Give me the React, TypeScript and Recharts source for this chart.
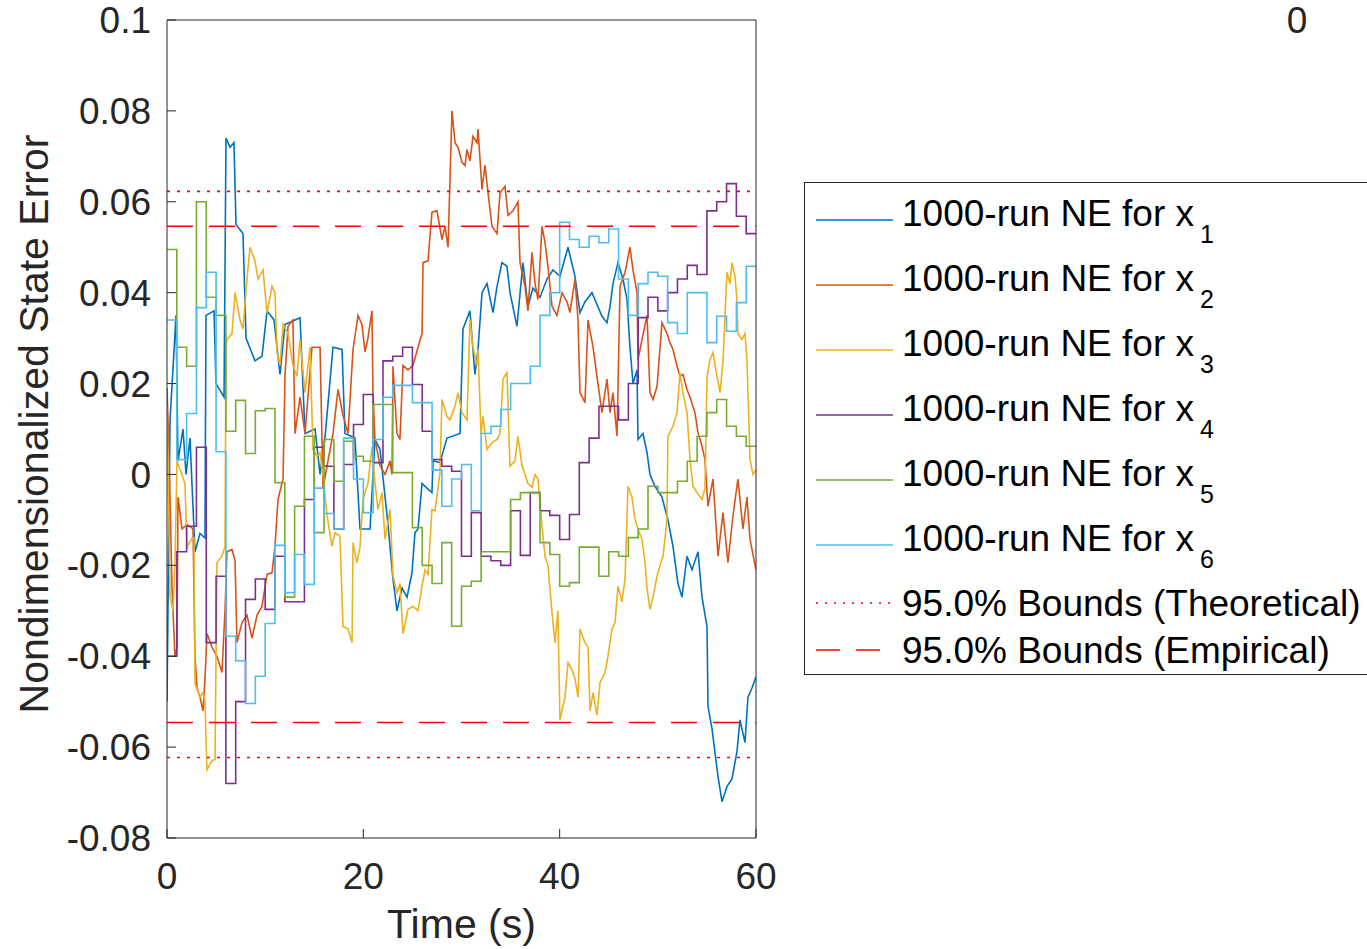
import { LineChart, Line, XAxis, YAxis, ReferenceLine, Legend } from "recharts";

const FONT = '"Liberation Sans", Arial, Helvetica, sans-serif';
const AXIS_COLOR = "#262626";

const timeTicks = [0, 20, 40, 60];
const errorTicks = [-0.08, -0.06, -0.04, -0.02, 0, 0.02, 0.04, 0.06, 0.08, 0.1];

const stateIndex = ["1", "2", "3", "4", "5", "6"];
const seriesColors = ["#0072BD", "#D95319", "#EDB120", "#7E2F8E", "#77AC30", "#4DBEEE"];
const seriesLabel = "1000-run NE for x";

const theoreticalBound = 0.0623;
const empiricalBound = 0.0546;
const boundLabels = ["95.0% Bounds (Theoretical)", "95.0% Bounds (Empirical)"];

// [time s, error]
const x1Trace: [number, number][] = [
  [0, -0.05], [0.31, 0.012], [0.92, 0.035], [1.12, 0.003], [1.63, 0.01], [1.94, 0], [2.34, 0.008],
  [2.85, -0.017], [3.36, -0.013], [3.87, -0.014], [3.97, 0.035], [4.79, 0.036], [4.99, 0.02],
  [5.81, 0.017], [6.01, 0.074], [6.42, 0.072], [6.82, 0.073], [7.03, 0.055], [7.74, 0.053],
  [8.05, 0.03], [8.96, 0.025], [9.68, 0.026], [10.19, 0.036], [10.9, 0.034], [11.51, 0.022],
  [12.02, 0.033], [13.55, 0.0345], [14.06, 0.009], [15.08, 0.01], [15.59, 0], [16.09, 0.008],
  [16.91, 0.028], [17.83, 0.0275], [18.13, 0.009], [19.15, 0.008], [19.66, -0.012], [20.68, -0.012],
  [21.19, 0.0077], [21.7, 0.0055], [22.51, -0.011], [23.02, -0.023], [23.43, -0.03], [23.94, -0.025],
  [24.45, -0.027], [24.96, -0.0216], [25.26, -0.0128], [25.57, -0.012], [25.98, -0.002],
  [26.48, -0.003], [26.99, -0.004], [27.1, 0.003], [27.81, 0.0026], [28.52, 0.008], [29.85, 0.009],
  [30.15, 0.032], [30.86, 0.036], [31.37, 0.022], [31.68, 0.0275], [32.09, 0.04], [32.6, 0.042],
  [33.21, 0.0356], [33.62, 0.0414], [34.12, 0.0466], [34.63, 0.0458], [34.94, 0.04], [35.65, 0.0326],
  [36.26, 0.0466], [36.77, 0.037], [37.28, 0.041], [38.0, 0.039], [38.71, 0.043], [39.32, 0.045],
  [40.03, 0.0436], [40.85, 0.05], [41.56, 0.0436], [42.07, 0.0356], [42.58, 0.038], [43.29, 0.04],
  [44.31, 0.0348], [44.82, 0.0334], [45.13, 0.037], [45.43, 0.042], [45.94, 0.0466], [46.45, 0.043],
  [46.86, 0.0385], [47.16, 0.028], [47.47, 0.02], [47.88, 0.023], [47.98, 0.0077], [48.49, 0.009],
  [48.9, 0.0048], [49.2, 0], [49.71, -0.0026], [50.42, -0.005], [51.03, -0.01], [51.54, -0.0158],
  [52.05, -0.024], [52.46, -0.027], [52.97, -0.018], [53.48, -0.021], [54.09, -0.017], [54.5, -0.027],
  [55.01, -0.0335], [55.11, -0.051], [55.52, -0.056], [56.13, -0.0665], [56.54, -0.072],
  [57.04, -0.0687], [57.55, -0.067], [58.06, -0.061], [58.37, -0.054], [58.67, -0.057],
  [58.88, -0.059], [59.18, -0.049], [59.59, -0.047], [60, -0.0445],
];

const x2Trace: [number, number][] = [
  [0, 0.019], [0.2, 0.005], [0.51, -0.025], [0.81, -0.04], [1.02, -0.038], [1.12, -0.005],
  [1.53, -0.012], [2.04, -0.011], [2.65, -0.012], [2.85, -0.04], [3.06, -0.047], [3.36, -0.049],
  [3.67, -0.052], [3.87, -0.045], [4.07, -0.035], [4.58, -0.038], [5.09, -0.04], [5.6, -0.0436],
  [5.91, -0.03], [6.11, -0.017], [6.62, -0.0165], [6.93, -0.019], [7.13, -0.037], [7.64, -0.0326],
  [8.15, -0.031], [8.66, -0.036], [9.17, -0.031], [9.68, -0.029], [10.19, -0.022], [10.7, -0.0216],
  [11.0, -0.0158], [11.31, -0.0055], [11.82, -0.001], [12.02, 0.0216], [12.33, 0.0326],
  [12.83, 0.034], [13.04, 0.009], [13.55, 0.017], [14.06, 0.009], [14.77, 0.028], [15.59, 0.028],
  [15.89, -0.003], [16.3, 0.0018], [16.91, 0.009], [17.42, 0.0187], [17.93, 0.013], [18.44, 0.009],
  [18.95, 0.0275], [19.46, 0.035], [19.86, 0.033], [20.17, 0.027], [20.47, 0.03], [20.88, 0.036],
  [20.98, 0.018], [21.19, 0.0077], [21.7, 0.002], [22.21, 0], [22.72, 0.003], [22.92, 0],
  [23.02, 0.0238], [23.43, 0.009], [23.73, 0.0077], [24.04, 0.024], [24.55, 0.023], [25.06, 0.024],
  [25.57, 0.028], [25.98, 0.031], [26.08, 0.0466], [26.59, 0.047], [26.99, 0.0577], [27.5, 0.058],
  [28.01, 0.0517], [28.32, 0.0546], [28.63, 0.05], [29.03, 0.08], [29.34, 0.073], [29.64, 0.072],
  [30.05, 0.0687], [30.36, 0.068], [30.56, 0.0715], [30.86, 0.069], [31.17, 0.0744], [31.58, 0.073],
  [31.68, 0.076], [32.09, 0.0627], [32.39, 0.068], [32.7, 0.062], [33.11, 0.0546], [33.62, 0.053],
  [33.92, 0.062], [34.43, 0.0634], [34.74, 0.057], [35.25, 0.058], [35.75, 0.06], [35.96, 0.0466],
  [36.47, 0.0414], [36.77, 0.036], [37.18, 0.0489], [37.49, 0.042], [37.79, 0.0385], [38.2, 0.0546],
  [38.51, 0.051], [38.81, 0.0458], [39.22, 0.037], [39.72, 0.035], [40.24, 0.04], [40.75, 0.038],
  [41.05, 0.0356], [41.56, 0.043], [41.87, 0.034], [42.07, 0.018], [42.58, 0.0158], [42.89, 0.034],
  [43.4, 0.028], [43.8, 0.0216], [44.31, 0.0136], [44.82, 0.021], [45.13, 0.0136], [45.43, 0.018],
  [45.84, 0.0084], [46.15, 0.0414], [46.66, 0.0445], [47.16, 0.05], [47.47, 0.045], [47.88, 0.04],
  [47.98, 0.0253], [48.39, 0.0297], [48.9, 0.035], [49.2, 0.018], [49.51, 0.0165], [49.92, 0.0194],
  [50.42, 0.0334], [50.93, 0.031], [51.24, 0.029], [51.54, 0.0275], [51.95, 0.0238], [52.26, 0.0216],
  [52.56, 0.022], [52.97, 0.0187], [53.28, 0.017], [53.78, 0.0136], [54.09, 0.0092], [54.5, 0.0062],
  [54.8, 0.0033], [55.11, -0.007], [55.62, -0.001], [56.13, -0.018], [56.64, -0.0084],
  [57.14, -0.0194], [57.65, -0.0092], [58.16, -0.001], [58.67, -0.012], [59.08, -0.005],
  [59.39, -0.0143], [60, -0.021],
];

const x3Trace: [number, number][] = [
  [0, 0.015], [0.2, -0.01], [0.31, -0.027], [0.61, -0.03], [0.81, -0.02], [1.02, 0.003],
  [1.83, -0.002], [2.04, -0.016], [2.55, -0.014], [2.75, -0.014], [2.85, -0.046], [3.36, -0.049],
  [3.67, -0.048], [3.87, -0.05], [4.07, -0.065], [4.58, -0.063], [4.89, -0.0627], [5.09, -0.0194],
  [5.6, -0.018], [5.91, -0.0158], [6.01, 0.028], [6.11, 0.0297], [6.62, 0.031], [6.93, 0.04],
  [7.44, 0.034], [7.74, 0.032], [8.15, 0.043], [8.45, 0.05], [8.96, 0.047], [9.27, 0.043],
  [9.78, 0.045], [10.19, 0.0356], [10.7, 0.0414], [11.0, 0.04], [11.21, 0.027], [11.51, 0.024],
  [11.82, 0.033], [12.33, 0.031], [12.83, 0.024], [13.24, 0.0216], [13.55, 0.0297], [14.06, 0.018],
  [14.57, 0.028], [14.87, 0.0055], [15.28, 0.004], [15.59, 0.0048], [15.89, 0], [16.3, -0.009],
  [16.81, -0.0158], [17.11, -0.0128], [17.62, -0.0136], [17.93, -0.0334], [18.44, -0.034],
  [18.85, -0.037], [18.95, -0.015], [19.35, -0.0194], [19.66, -0.016], [19.97, -0.0055],
  [20.47, -0.002], [20.88, 0.006], [21.19, -0.002], [21.49, -0.0077], [21.9, -0.004],
  [22.21, -0.0143], [22.72, -0.0077], [23.02, -0.0224], [23.43, -0.026], [23.73, -0.024],
  [24.04, -0.035], [24.55, -0.0297], [25.06, -0.029], [25.57, -0.03], [25.98, -0.0246],
  [26.28, -0.021], [26.59, -0.022], [26.99, -0.0077], [27.3, -0.008], [27.81, 0.0004],
  [28.01, 0.0165], [28.52, 0.0128], [28.83, 0.012], [29.34, 0.015], [29.64, 0.018], [30.05, 0.0136],
  [30.56, 0.012], [30.86, 0.034], [31.17, 0.028], [31.58, 0.024], [31.68, 0.0275], [31.99, 0.009],
  [32.19, 0.0128], [32.6, 0.0055], [33.11, 0.007], [33.62, 0.0077], [33.92, 0.009], [34.23, 0.021],
  [34.63, 0.0224], [34.94, 0.0018], [35.45, 0.003], [35.75, 0.0084], [36.16, 0.002], [36.47, 0],
  [36.77, -0.002], [37.18, -0.0028], [37.49, 0], [37.79, -0.001], [38.2, -0.0114], [38.51, -0.018],
  [38.81, -0.02], [39.22, -0.0304], [39.52, -0.037], [39.82, -0.03], [40.03, -0.054],
  [40.54, -0.049], [40.85, -0.0414], [41.26, -0.043], [41.56, -0.045], [41.87, -0.049],
  [42.07, -0.034], [42.58, -0.037], [42.89, -0.038], [43.09, -0.052], [43.4, -0.048],
  [43.8, -0.053], [44.11, -0.0458], [44.62, -0.0436], [44.92, -0.04], [45.33, -0.034],
  [45.64, -0.0326], [45.94, -0.0246], [46.35, -0.028], [46.66, -0.023], [46.96, -0.0026],
  [47.37, -0.005], [47.68, -0.01], [47.98, -0.012], [48.39, -0.0143], [48.7, -0.0194],
  [48.9, -0.025], [49.2, -0.0297], [49.51, -0.027], [49.92, -0.0224], [50.22, -0.02],
  [50.53, -0.018], [50.93, -0.01], [51.03, 0.0084], [51.54, 0.0106], [51.95, 0.0136],
  [52.26, 0.0224], [52.56, 0.018], [52.97, 0.0136], [53.28, 0.0033], [53.58, -0.0026],
  [53.99, -0.004], [54.5, -0.0055], [54.8, -0.003], [55.01, 0.0216], [55.32, 0.0253],
  [55.62, 0.0268], [56.03, 0.0216], [56.34, 0.018], [56.64, 0.025], [57.04, 0.0445], [57.35, 0.042],
  [57.55, 0.0466], [57.86, 0.0436], [58.06, 0.0385], [58.16, 0.031], [58.57, 0.0297], [58.88, 0.031],
  [59.08, 0.0253], [59.39, 0.0033], [59.69, 0], [60, 0.001],
];

// piecewise-constant states, one value per second from t = 0 to 60
const stepTimes = Array.from({ length: 61 }, (_, i) => i);

const x4Steps = [
  -0.04, -0.017, -0.0114, 0.006, -0.037, -0.0224, -0.068, -0.05, -0.0275, -0.023,
  -0.0297, -0.018, -0.028, -0.028, -0.0055, 0.006, 0.0018, -0.012, 0.0022, 0.011,
  0.0176, 0.0026, 0.025, 0.026, 0.028, 0.0198, 0.0095, 0.0033, 0.0018, 0.0007,
  -0.018, -0.0084, -0.018, -0.019, -0.02, -0.008, -0.0178, -0.004, -0.008, -0.009,
  -0.0143, -0.0088, 0.0026, 0.008, 0.015, 0.015, 0.012, 0.02, 0.0345, 0.039,
  0.036, 0.04, 0.043, 0.046, 0.044, 0.058, 0.06, 0.064, 0.0568, 0.053, 0.053,
];

const x5Steps = [
  0.0495, 0.028, 0.0238, 0.06, 0.039, 0.035, 0.0095, 0.0163, 0.0046, 0.014,
  0.0145, -0.0018, -0.027, -0.007, 0.0084, -0.0128, 0.0077, -0.0015, 0.0073, 0.004,
  0.0029, 0.0154, 0.0154, 0.0004, 0.0004, -0.0117, -0.02, -0.024, -0.015, -0.0334,
  -0.0246, -0.0235, -0.017, -0.017, -0.017, -0.0055, -0.004, -0.004, -0.015, -0.0176,
  -0.0246, -0.0238, -0.016, -0.016, -0.0224, -0.017, -0.018, -0.0139, -0.012, -0.0026,
  -0.004, -0.004, -0.0015, 0.0029, 0.0084, 0.0136, 0.0165, 0.0106, 0.0084, 0.0062, 0.0062,
];

const x6Steps = [
  0.034, 0.0033, 0.0134, 0.0367, 0.0445, 0.005, -0.0356, -0.041, -0.0504, -0.0444,
  -0.0328, -0.0156, -0.026, -0.0176, -0.0242, -0.003, -0.0086, -0.012, 0.008, -0.001,
  -0.0084, 0.0077, 0.017, 0.0196, 0.0196, 0.0158, 0.0158, 0.001, -0.007, -0.001,
  0.0022, -0.008, 0.009, 0.0106, 0.0143, 0.02, 0.02, 0.0238, 0.035, 0.04,
  0.0555, 0.0517, 0.05, 0.0524, 0.051, 0.054, 0.043, 0.035, 0.042, 0.0445,
  0.0436, 0.0334, 0.031, 0.04, 0.04, 0.029, 0.0348, 0.0315, 0.0378, 0.0458, 0.0458,
];

const toPoints = (trace: [number, number][]) => trace.map(([t, v]) => ({ t, v }));
const stepPoints = (values: number[]) => values.map((v, i) => ({ t: stepTimes[i], v }));

const series = [
  { data: toPoints(x1Trace), type: "linear" },
  { data: toPoints(x2Trace), type: "linear" },
  { data: toPoints(x3Trace), type: "linear" },
  { data: stepPoints(x4Steps), type: "stepAfter" },
  { data: stepPoints(x5Steps), type: "stepAfter" },
  { data: stepPoints(x6Steps), type: "stepAfter" },
];

const LINE_W = 1.6;

const fmtError = (v: number) => String(Math.round(v * 100) / 100);

const renderXTitle = (props: any) => {
  const vb = props.viewBox;
  return (
    <text x={vb.x + vb.width / 2} y={vb.y + 100} textAnchor="middle" fontSize={41} fontFamily={FONT} fill={AXIS_COLOR}>
      Time (s)
    </text>
  );
};

const renderYTitle = (props: any) => {
  const vb = props.viewBox;
  return (
    <text
      x={0}
      y={0}
      transform={`translate(48, ${vb.y + vb.height / 2 - 5}) rotate(-90)`}
      textAnchor="middle"
      fontSize={41}
      fontFamily={FONT}
      fill={AXIS_COLOR}
    >
      Nondimensionalized State Error
    </text>
  );
};

function LegendBox() {
  return (
    <svg width={590} height={494} style={{ display: "block" }}>
      <rect x={0.5} y={0.5} width={589} height={492} fill="#fff" stroke={AXIS_COLOR} />
      {stateIndex.map((sub, i) => {
        const ly = 38 + 65 * i;
        return (
          <g key={sub}>
            <line x1={12} x2={89} y1={ly} y2={ly} stroke={seriesColors[i]} strokeWidth={LINE_W} />
            <text x={98} y={ly + 6} fontSize={37} fontFamily={FONT} fill="#000">
              {seriesLabel}
              <tspan dx={6} dy={17} fontSize={25}>
                {sub}
              </tspan>
            </text>
          </g>
        );
      })}
      <line x1={12} x2={89} y1={421} y2={421} stroke="#FF0000" strokeWidth={LINE_W} strokeDasharray="2 7" />
      <text x={98} y={434} fontSize={37} fontFamily={FONT} fill="#000">
        {boundLabels[0]}
      </text>
      <line x1={12} x2={89} y1={468} y2={468} stroke="#FF0000" strokeWidth={LINE_W} strokeDasharray="24 16" />
      <text x={98} y={481} fontSize={37} fontFamily={FONT} fill="#000">
        {boundLabels[1]}
      </text>
    </svg>
  );
}

export default function App() {
  const tickStyle = { fontSize: 37, fill: AXIS_COLOR, fontFamily: FONT };
  return (
    <div style={{ position: "absolute", left: 0, top: 0, width: 1367, height: 949, overflow: "hidden", background: "#fff" }}>
      <LineChart width={1367} height={949} margin={{ top: 20, right: 611, bottom: 0, left: 0 }}>
        <XAxis
          xAxisId="b"
          dataKey="t"
          type="number"
          domain={[0, 60]}
          allowDataOverflow
          ticks={timeTicks}
          interval={0}
          height={111}
          tickSize={-9}
          tickMargin={34}
          tick={tickStyle}
          stroke={AXIS_COLOR}
          label={renderXTitle}
        />
        <XAxis
          xAxisId="t"
          orientation="top"
          mirror
          type="number"
          domain={[0, 60]}
          allowDataOverflow
          ticks={timeTicks}
          interval={0}
          tickSize={9}
          tick={false}
          stroke={AXIS_COLOR}
        />
        <YAxis
          yAxisId="l"
          type="number"
          domain={[-0.08, 0.1]}
          allowDataOverflow
          ticks={errorTicks}
          interval={0}
          width={167}
          tickSize={-9}
          tickMargin={25}
          tick={tickStyle}
          tickFormatter={fmtError}
          stroke={AXIS_COLOR}
          label={renderYTitle}
        />
        <YAxis
          yAxisId="r"
          orientation="right"
          mirror
          type="number"
          domain={[-0.08, 0.1]}
          allowDataOverflow
          ticks={errorTicks}
          interval={0}
          tickSize={9}
          tick={false}
          stroke={AXIS_COLOR}
        />
        {series.map((s, i) => (
          <Line
            key={stateIndex[i]}
            xAxisId="b"
            yAxisId="l"
            data={s.data}
            dataKey="v"
            name={seriesLabel + stateIndex[i]}
            type={s.type as any}
            stroke={seriesColors[i]}
            strokeWidth={LINE_W}
            dot={false}
            activeDot={false}
            isAnimationActive={false}
          />
        ))}
        <ReferenceLine xAxisId="b" yAxisId="l" y={theoreticalBound} stroke="#FF0000" strokeWidth={LINE_W} strokeDasharray="3 7" />
        <ReferenceLine xAxisId="b" yAxisId="l" y={-theoreticalBound} stroke="#FF0000" strokeWidth={LINE_W} strokeDasharray="3 7" />
        <ReferenceLine xAxisId="b" yAxisId="l" y={empiricalBound} stroke="#FF0000" strokeWidth={LINE_W} strokeDasharray="26 16" />
        <ReferenceLine xAxisId="b" yAxisId="l" y={-empiricalBound} stroke="#FF0000" strokeWidth={LINE_W} strokeDasharray="26 16" />
        <Legend
          layout="vertical"
          align="center"
          verticalAlign="middle"
          wrapperStyle={{ left: 804, top: 182, width: 590, height: 494 }}
          content={() => <LegendBox />}
        />
      </LineChart>
      <svg width={1367} height={949} style={{ position: "absolute", left: 0, top: 0, pointerEvents: "none" }}>
        <text x={1297} y={33} textAnchor="middle" fontSize={37} fontFamily={FONT} fill={AXIS_COLOR}>
          0
        </text>
      </svg>
    </div>
  );
}
